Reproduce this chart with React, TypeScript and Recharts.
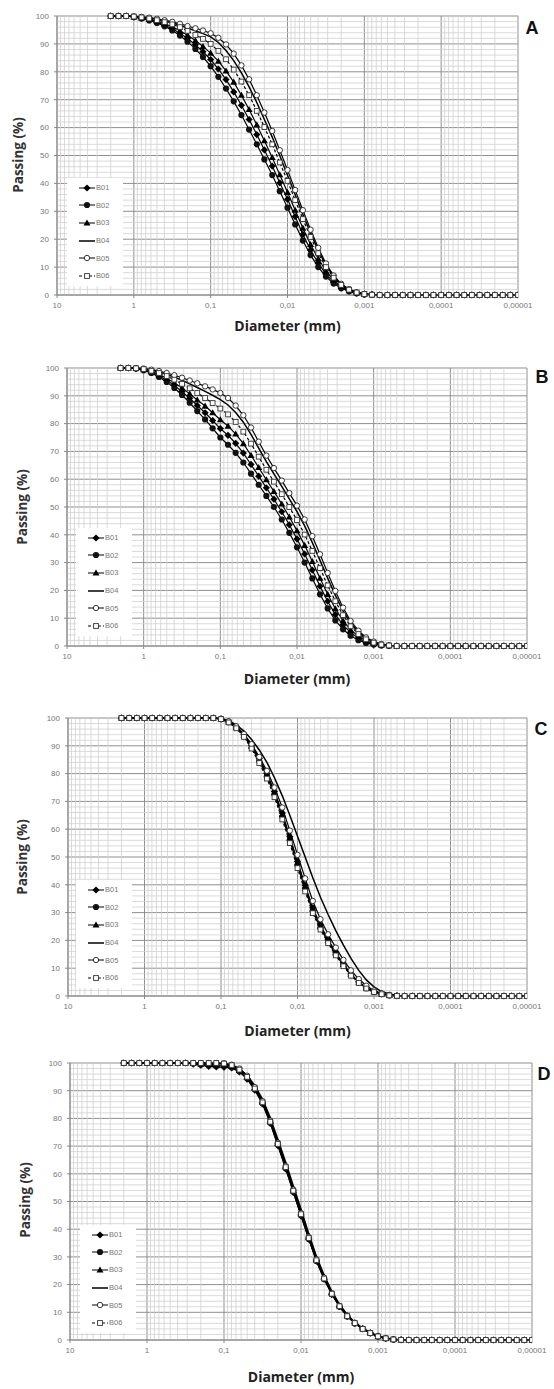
import React from 'react';
import { LineChart, Line, XAxis, YAxis, CartesianGrid, ReferenceLine } from 'recharts';

// particle diameters (mm), shared by all samples
const diameters = [
  2, 1.585, 1.259, 1, 0.794, 0.631, 0.501, 0.398, 0.316, 0.251, 0.2, 0.158, 0.126,
  0.1, 0.0794, 0.0631, 0.0501, 0.0398, 0.0316, 0.0251, 0.02, 0.0158, 0.0126,
  0.01, 0.00794, 0.00631, 0.00501, 0.00398, 0.00316, 0.00251, 0.002, 0.00158, 0.00126,
  0.001, 0.000794, 0.000631, 0.000501, 0.000398, 0.000316, 0.000251, 0.0002, 0.000158, 0.000126,
  0.0001, 0.0000794, 0.0000631, 0.0000501, 0.0000398, 0.0000316, 0.0000251, 0.00002, 0.0000158, 0.0000126,
  0.00001,
];

const seriesNames = ['B01', 'B02', 'B03', 'B04', 'B05', 'B06'];
const xTicks = [10, 1, 0.1, 0.01, 0.001, 0.0001, 0.00001];
const yTicks = [0, 10, 20, 30, 40, 50, 60, 70, 80, 90, 100];
const mantissas = [2, 3, 4, 5, 6, 7, 8, 9];
const decades = [1, 0.1, 0.01, 0.001, 0.0001, 0.00001];
const minorY = [2, 4, 6, 8, 12, 14, 16, 18, 22, 24, 26, 28, 32, 34, 36, 38, 42, 44, 46, 48,
  52, 54, 56, 58, 62, 64, 66, 68, 72, 74, 76, 78, 82, 84, 86, 88, 92, 94, 96, 98];

// Panel A - passing (%)
const aB01 = [100, 100, 100, 99.7, 99.2, 98.6, 97.8, 96.7, 95.4, 93.8, 91.9, 89.7, 87.2, 84.4, 81, 77.2, 72.8, 68,
  62.9, 57.5, 52, 46.2, 40.2, 34.3, 28.1, 21.7, 16.1, 11.4, 7.5, 4.7, 2.7, 1.5, 0.7, 0.25, 0.1, 0,
  0, 0, 0, 0, 0, 0, 0, 0, 0, 0, 0, 0, 0, 0, 0, 0, 0, 0];
const aB02 = [100, 100, 100, 99.6, 99.1, 98.4, 97.5, 96.3, 94.8, 93, 90.8, 88.2, 85.3, 82, 78.2, 74, 69.4, 64.5,
  59.3, 54, 48.6, 43, 37.2, 31.3, 25.3, 19.5, 14.3, 10, 6.6, 4.1, 2.4, 1.3, 0.6, 0.2, 0.1, 0,
  0, 0, 0, 0, 0, 0, 0, 0, 0, 0, 0, 0, 0, 0, 0, 0, 0, 0];
const aB03 = [100, 100, 100, 99.7, 99.3, 98.8, 98.1, 97.2, 96.1, 94.7, 93.1, 91.2, 89.1, 86.7, 83.8, 80.3, 76.3, 71.6,
  66.5, 61, 55.3, 49.3, 43.1, 36.8, 30.4, 24, 18.1, 13, 8.6, 5.3, 3.1, 1.6, 0.8, 0.3, 0.1, 0,
  0, 0, 0, 0, 0, 0, 0, 0, 0, 0, 0, 0, 0, 0, 0, 0, 0, 0];
const aB04 = [100, 100, 100, 99.9, 99.6, 99.3, 98.8, 98.2, 97.5, 96.7, 95.7, 94.7, 93.7, 92.5, 90.5, 87.6, 84, 79.6,
  74.6, 69, 62.9, 56.6, 49.9, 42.9, 35.9, 28.8, 22.2, 16, 10.7, 6.6, 3.8, 2, 0.95, 0.38, 0.1, 0,
  0, 0, 0, 0, 0, 0, 0, 0, 0, 0, 0, 0, 0, 0, 0, 0, 0, 0];
const aB05 = [100, 100, 100, 99.9, 99.7, 99.4, 99, 98.5, 97.9, 97.2, 96.4, 95.6, 94.8, 93.8, 92.2, 89.8, 86.5, 82.3,
  77.3, 71.6, 65.4, 58.8, 51.9, 44.8, 37.6, 30.4, 23.4, 16.9, 11.3, 7, 4, 2.1, 1, 0.4, 0.1, 0,
  0, 0, 0, 0, 0, 0, 0, 0, 0, 0, 0, 0, 0, 0, 0, 0, 0, 0];
const aB06 = [100, 100, 100, 99.8, 99.5, 99.1, 98.5, 97.8, 97, 96, 94.7, 93.2, 91.8, 90, 87.5, 84.5, 80.8, 76.5,
  71.6, 66, 60.2, 54, 47.5, 40.9, 34, 27.2, 20.8, 15, 10, 6.2, 3.6, 1.9, 0.9, 0.35, 0.1, 0,
  0, 0, 0, 0, 0, 0, 0, 0, 0, 0, 0, 0, 0, 0, 0, 0, 0, 0];

// Panel B
const bB01 = [100, 100, 99.8, 99.3, 98.4, 97.2, 95.6, 93.7, 91.5, 89.1, 86.5, 83.9, 81.1, 78.2, 75.8, 72.9, 69.4, 65.3, 61.1,
  56.9, 52.8, 48.3, 43.6, 38.5, 33.1, 27.3, 21.5, 16.1, 11.3, 7.6, 4.8, 2.8, 1.5, 0.7, 0.3, 0.1, 0, 0,
  0, 0, 0, 0, 0, 0, 0, 0, 0, 0, 0, 0, 0, 0, 0, 0];
const bB02 = [100, 100, 99.8, 99.2, 98.2, 96.8, 95, 92.8, 90.3, 87.5, 84.5, 81.5, 78.3, 75, 72.4, 69.5, 66, 62, 58,
  54, 50, 45.5, 40.7, 35.5, 30, 24.3, 18.6, 13.5, 9.2, 6, 3.7, 2.1, 1.1, 0.5, 0.2, 0.05, 0, 0,
  0, 0, 0, 0, 0, 0, 0, 0, 0, 0, 0, 0, 0, 0, 0, 0];
const bB03 = [100, 100, 99.9, 99.4, 98.7, 97.6, 96.3, 94.6, 92.8, 90.7, 88.5, 86.3, 83.9, 81.4, 79.1, 76.3, 72.8, 68.6, 64.2,
  59.8, 55.6, 51.1, 46.4, 41.5, 36.2, 30.4, 24.4, 18.6, 13.4, 9.1, 5.8, 3.5, 1.9, 0.9, 0.4, 0.1, 0, 0,
  0, 0, 0, 0, 0, 0, 0, 0, 0, 0, 0, 0, 0, 0, 0, 0];
const bB04 = [100, 100, 100, 99.7, 99.2, 98.6, 97.7, 96.7, 95.6, 94.3, 93, 91.6, 90.2, 88.6, 86.7, 84, 80.5, 76.1, 71.2,
  66.3, 61.9, 57.4, 52.9, 48.3, 43.2, 37.2, 30.8, 24.4, 18.2, 12.6, 8.2, 5, 2.8, 1.4, 0.6, 0.2, 0.05, 0,
  0, 0, 0, 0, 0, 0, 0, 0, 0, 0, 0, 0, 0, 0, 0, 0];
const bB05 = [100, 100, 100, 99.8, 99.4, 98.9, 98.2, 97.4, 96.5, 95.5, 94.5, 93.4, 92.3, 91, 89.2, 86.5, 83, 78.6, 73.5,
  68.5, 64, 59.5, 55, 50.5, 45.5, 39.5, 33, 26.3, 19.8, 13.8, 9, 5.5, 3.1, 1.6, 0.7, 0.25, 0.05, 0,
  0, 0, 0, 0, 0, 0, 0, 0, 0, 0, 0, 0, 0, 0, 0, 0];
const bB06 = [100, 100, 99.9, 99.6, 99, 98.2, 97.1, 95.8, 94.3, 92.7, 91, 89.2, 87.4, 85.4, 83.3, 80.6, 77.1, 72.8, 68.1,
  63.4, 59.1, 54.6, 50, 45.3, 40.1, 34.2, 28, 21.8, 16.1, 11.1, 7.1, 4.3, 2.4, 1.2, 0.5, 0.2, 0, 0,
  0, 0, 0, 0, 0, 0, 0, 0, 0, 0, 0, 0, 0, 0, 0, 0];

// Panel C
const cB01 = [100, 100, 100, 100, 100, 100, 100, 100, 100, 100, 100, 100, 100,
  99.7, 98.7, 96.8, 94, 90.2, 85.4, 80, 73.6, 65.8, 57.3, 48.4, 39.8, 31.7, 25.5, 20.3, 15.7, 11.5, 7.9, 5.1, 3, 1.6, 0.75, 0.27, 0.05,
  0, 0, 0, 0, 0, 0, 0, 0, 0, 0, 0, 0, 0, 0, 0, 0, 0];
const cB02 = [100, 100, 100, 100, 100, 100, 100, 100, 100, 100, 100, 100, 100,
  99.6, 98.5, 96.5, 93.5, 89.5, 84.5, 79, 72.5, 64.5, 56, 47, 38.5, 30.5, 24.5, 19.5, 15, 11, 7.5, 4.8, 2.8, 1.5, 0.7, 0.25, 0.05,
  0, 0, 0, 0, 0, 0, 0, 0, 0, 0, 0, 0, 0, 0, 0, 0, 0];
const cB03 = [100, 100, 100, 100, 100, 100, 100, 100, 100, 100, 100, 100, 100,
  99.6, 98.6, 96.7, 93.8, 89.9, 85, 79.6, 73.2, 65.3, 56.9, 48, 39.5, 31.3, 25.2, 20.1, 15.5, 11.4, 7.8, 5, 2.9, 1.55, 0.72, 0.26, 0.05,
  0, 0, 0, 0, 0, 0, 0, 0, 0, 0, 0, 0, 0, 0, 0, 0, 0];
const cB04 = [100, 100, 100, 100, 100, 100, 100, 100, 100, 100, 100, 100, 100,
  99.8, 99, 97.5, 95.3, 92.3, 88.5, 84, 78.5, 72, 65, 57.5, 50, 42.5, 35.5, 29.3, 23.5, 18.3, 13.5, 9.2, 5.8, 3.3, 1.6, 0.7, 0.2,
  0, 0, 0, 0, 0, 0, 0, 0, 0, 0, 0, 0, 0, 0, 0, 0, 0];
const cB05 = [100, 100, 100, 100, 100, 100, 100, 100, 100, 100, 100, 100, 100,
  99.7, 98.8, 97, 94.2, 90.6, 86, 81, 75, 67.8, 59.5, 50.8, 42.3, 34.2, 27.6, 22.2, 17.4, 13, 9.2, 6.1, 3.7, 2, 1, 0.4, 0.1,
  0, 0, 0, 0, 0, 0, 0, 0, 0, 0, 0, 0, 0, 0, 0, 0, 0];
const cB06 = [100, 100, 100, 100, 100, 100, 100, 100, 100, 100, 100, 100, 100,
  99.6, 98.4, 96.3, 93.2, 89, 83.8, 78.2, 71.5, 63.5, 55, 46, 37.6, 29.8, 23.9, 19, 14.6, 10.7, 7.3, 4.7, 2.7, 1.4, 0.65, 0.22, 0.05,
  0, 0, 0, 0, 0, 0, 0, 0, 0, 0, 0, 0, 0, 0, 0, 0, 0];

// Panel D
const dB01 = [100, 100, 100, 100, 100, 100, 100, 100, 100,
  99.6, 99.2, 98.8, 98.6, 98.5, 98.2, 96.8, 94.2, 90.2, 85.2, 78.2, 70.2, 61.8, 53.3, 44.8, 36.4, 28.5, 22, 16.5, 12, 8.5, 6, 4, 2.5, 1.3, 0.6, 0.2, 0.05,
  0, 0, 0, 0, 0, 0, 0, 0, 0, 0, 0, 0, 0, 0, 0, 0, 0];
const dB02 = [100, 100, 100, 100, 100, 100, 100, 100, 100,
  99.8, 99.5, 99.2, 99, 99, 98.5, 97, 94.5, 90.5, 85.5, 78.5, 70.5, 62, 53.5, 45, 36.5, 28.5, 22, 16.5, 12, 8.5, 6, 4, 2.5, 1.3, 0.6, 0.2, 0.05,
  0, 0, 0, 0, 0, 0, 0, 0, 0, 0, 0, 0, 0, 0, 0, 0, 0];
const dB03 = [100, 100, 100, 100, 100, 100, 100, 100, 100,
  99.9, 99.7, 99.5, 99.3, 99.2, 98.8, 97.4, 95, 91.2, 86.3, 79.5, 71.6, 63.2, 54.7, 46.2, 37.6, 29.4, 22.7, 17, 12.4, 8.8, 6.2, 4.1, 2.6, 1.4, 0.65, 0.22, 0.05,
  0, 0, 0, 0, 0, 0, 0, 0, 0, 0, 0, 0, 0, 0, 0, 0, 0];
const dB04 = [100, 100, 100, 100, 100, 100, 100, 100, 100,
  100, 100, 99.9, 99.8, 99.7, 99.2, 97.9, 95.6, 91.8, 87, 80.3, 72.5, 64.2, 55.7, 47.2, 38.5, 30.2, 23.4, 17.6, 12.9, 9.1, 6.4, 4.3, 2.7, 1.5, 0.7, 0.25, 0.05,
  0, 0, 0, 0, 0, 0, 0, 0, 0, 0, 0, 0, 0, 0, 0, 0, 0];
const dB05 = [100, 100, 100, 100, 100, 100, 100, 100, 100,
  100, 100, 100, 100, 99.9, 99.4, 98, 95.4, 91.3, 86.2, 79.2, 71.2, 62.8, 54.3, 45.8, 37.2, 29.1, 22.5, 16.9, 12.3, 8.8, 6.2, 4.1, 2.6, 1.4, 0.65, 0.22, 0.05,
  0, 0, 0, 0, 0, 0, 0, 0, 0, 0, 0, 0, 0, 0, 0, 0, 0];
const dB06 = [100, 100, 100, 100, 100, 100, 100, 100, 100,
  100, 100, 100, 100, 99.8, 99.2, 97.6, 95, 90.8, 85.8, 78.8, 70.8, 62.4, 53.9, 45.4, 36.8, 28.8, 22.2, 16.7, 12.2, 8.6, 6.1, 4, 2.5, 1.3, 0.6, 0.2, 0.05,
  0, 0, 0, 0, 0, 0, 0, 0, 0, 0, 0, 0, 0, 0, 0, 0, 0];

const markers = ['diamond', 'circle', 'triangle', 'none', 'openCircle', 'openSquare'];
const dashes = ['', '', '', '', '', '3 2'];

const minorX = decades.flatMap((d) => mantissas.map((m) => m * d));

const fmtX = (v: number) => String(v).replace('.', ',');

const drawMarker = (kind: string, cx: number, cy: number, key: string) => {
  switch (kind) {
    case 'diamond':
      return <path key={key} d={`M${cx},${cy - 3.6}L${cx + 3.6},${cy}L${cx},${cy + 3.6}L${cx - 3.6},${cy}Z`} fill="#000" />;
    case 'circle':
      return <circle key={key} cx={cx} cy={cy} r={3.1} fill="#111" />;
    case 'triangle':
      return <path key={key} d={`M${cx},${cy - 3.5}L${cx + 3.5},${cy + 2.6}L${cx - 3.5},${cy + 2.6}Z`} fill="#000" />;
    case 'openCircle':
      return <circle key={key} cx={cx} cy={cy} r={2.7} fill="#fff" stroke="#222" strokeWidth={0.9} />;
    case 'openSquare':
      return <rect key={key} x={cx - 2.4} y={cy - 2.4} width={4.8} height={4.8} fill="#fff" stroke="#333" strokeWidth={0.9} />;
    default:
      return <g key={key} />;
  }
};

const dotFor = (kind: string) => (p: any) => {
  const key = `${kind}-${p.index}`;
  if (typeof p.cx !== 'number' || typeof p.cy !== 'number') return <g key={key} />;
  return drawMarker(kind, p.cx, p.cy, key);
};

type Panel = {
  letter: string;
  values: number[][];
  left: number;
  right: number;
  top: number;
  bottom: number;
  letterPos: [number, number];
  passingPos: [number, number];
  diameterY: number;
  legend: [number, number];
};

const panels: Panel[] = [
  { letter: 'A', values: [aB01, aB02, aB03, aB04, aB05, aB06], left: 57, right: 518, top: 16, bottom: 295,
    letterPos: [532, 28], passingPos: [18, 155], diameterY: 326, legend: [67, 178] },
  { letter: 'B', values: [bB01, bB02, bB03, bB04, bB05, bB06], left: 67, right: 527, top: 368, bottom: 646,
    letterPos: [542, 377], passingPos: [22, 507], diameterY: 679, legend: [76, 528] },
  { letter: 'C', values: [cB01, cB02, cB03, cB04, cB05, cB06], left: 68, right: 527, top: 718, bottom: 996,
    letterPos: [541, 729], passingPos: [22, 857], diameterY: 1031, legend: [76, 880] },
  { letter: 'D', values: [dB01, dB02, dB03, dB04, dB05, dB06], left: 70, right: 532, top: 1063, bottom: 1340,
    letterPos: [544, 1074], passingPos: [25, 1200], diameterY: 1377, legend: [80, 1225] },
];

const titleFont = '"Open Sans", "Liberation Sans", sans-serif';

const GrainChart = ({ p }: { p: Panel }) => {
  const rows = diameters.map((d, i) => {
    const row: Record<string, number> = { d };
    seriesNames.forEach((s, k) => { row[s] = p.values[k][i]; });
    return row;
  });
  const h = p.bottom - p.top + 40;
  return (
    <>
      <div style={{ position: 'absolute', left: 0, top: p.top - 10 }}>
        <LineChart width={554} height={h} data={rows}
          margin={{ top: 10, right: 554 - p.right, bottom: 10, left: p.left - 30 }}>
          {minorX.map((v) => (
            <ReferenceLine key={`mx${v}`} x={v} stroke="#d0d0d0" strokeWidth={0.8} />
          ))}
          {minorY.map((v) => (
            <ReferenceLine key={`my${v}`} y={v} stroke="#d0d0d0" strokeWidth={0.8} />
          ))}
          <CartesianGrid stroke="#8f8f8f" strokeWidth={1} />
          <XAxis dataKey="d" type="number" scale="log" domain={[0.00001, 10]} reversed allowDataOverflow
            ticks={xTicks} interval={0} tickFormatter={fmtX} height={20} tickSize={3} tickMargin={4}
            axisLine={{ stroke: '#888' }} tickLine={{ stroke: '#888' }}
            tick={{ fontSize: 8, fill: '#777', fontFamily: 'Liberation Sans' }} />
          <YAxis type="number" domain={[0, 100]} ticks={yTicks} interval={0} width={30} tickSize={3} tickMargin={5}
            axisLine={{ stroke: '#888' }} tickLine={{ stroke: '#888' }}
            tick={{ fontSize: 8, fill: '#777', fontFamily: 'Liberation Sans' }} />
          {seriesNames.map((s, k) => (
            <Line key={s} dataKey={s} type="linear" stroke="#000" strokeWidth={k === 3 ? 1.5 : 1.2}
              strokeDasharray={dashes[k] || undefined}
              dot={markers[k] === 'none' ? false : dotFor(markers[k])}
              activeDot={false} isAnimationActive={false} />
          ))}
        </LineChart>
      </div>
      <div style={{ position: 'absolute', left: p.legend[0], top: p.legend[1], width: 56, padding: '1px 0',
        background: '#fff' }}>
        {seriesNames.map((s, k) => (
          <div key={s} style={{ height: 17.6, display: 'flex', alignItems: 'center', paddingLeft: 12 }}>
            <svg width={16} height={8}>
              <line x1={0} y1={4} x2={16} y2={4} stroke="#000" strokeWidth={k === 3 ? 1.5 : 1}
                strokeDasharray={dashes[k] || undefined} />
              {drawMarker(markers[k], 8, 4, `lg${s}`)}
            </svg>
            <span style={{ fontSize: 7.5, color: '#777', fontFamily: 'Liberation Sans', marginLeft: 1 }}>{s}</span>
          </div>
        ))}
      </div>
      <div style={{ position: 'absolute', left: p.passingPos[0] - 60, top: p.passingPos[1] - 10, width: 120,
        height: 20, lineHeight: '20px', textAlign: 'center', transform: 'rotate(-90deg)', fontFamily: titleFont,
        fontWeight: 700, fontSize: 13.5, color: '#333', whiteSpace: 'nowrap' }}>
        Passing (%)
      </div>
      <div style={{ position: 'absolute', left: (p.left + p.right) / 2 - 80, top: p.diameterY - 10, width: 160,
        height: 20, lineHeight: '20px', textAlign: 'center', fontFamily: titleFont, fontWeight: 700, fontSize: 14,
        color: '#222' }}>
        Diameter (mm)
      </div>
      <div style={{ position: 'absolute', left: p.letterPos[0] - 10, top: p.letterPos[1] - 11, width: 20,
        height: 22, lineHeight: '22px', textAlign: 'center', fontFamily: 'Liberation Sans', fontWeight: 700,
        fontSize: 18, color: '#111' }}>
        {p.letter}
      </div>
    </>
  );
};

const App = () => (
  <div style={{ position: 'absolute', left: 0, top: 0, width: 554, height: 1389, background: '#fff' }}>
    {panels.map((p) => (
      <GrainChart key={p.letter} p={p} />
    ))}
  </div>
);

export default App;
